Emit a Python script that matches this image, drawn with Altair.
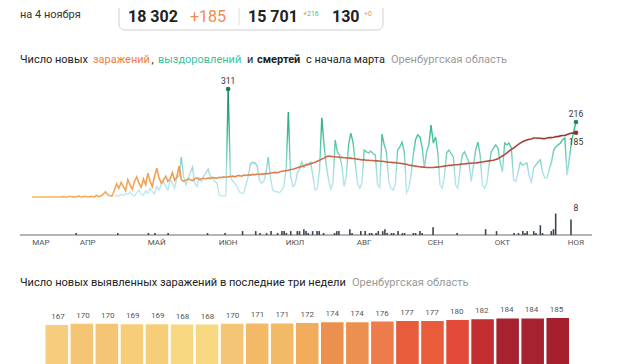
import altair as alt
import pandas as pd

FONT = "Roboto"

# ---------------- data ----------------
inf_start = "2020-03-05"
infections = [
    # Mar 5-31
    0, 0, 0, 0, 0, 0, 0, 0, 0, 0, 0, 0, 0, 0, 1, 0, 0, 2, 0, 1, 0, 3, 0, 1, 2, 0, 1,
    # Apr
    2, 0, 5, 1, 3, 8, 15, 6, 4, 3, 20, 38, 25, 42, 30, 18, 50, 35, 22, 45,
    58, 40, 28, 52, 35, 69, 45, 30, 60, 83,
    # May
    55, 40, 49, 60, 45, 52, 70, 48, 58, 89, 50, 45, 48, 52, 50, 47, 53, 55, 50, 52,
    54, 52, 55, 53, 56, 55, 54, 57, 56, 58, 57,
    # Jun
    58, 59, 60, 58, 61, 62, 60, 63, 62, 64, 63, 65, 64, 66, 65, 67, 66, 68, 67, 69,
    70, 71, 70, 72, 74, 75, 76, 77, 79, 80,
    # Jul
    82, 84, 86, 88, 90, 92, 94, 96, 98, 100, 103, 106, 109, 112, 116,
    118, 117, 116, 116, 115, 114, 114, 113, 113, 112, 112, 111, 110, 109, 108, 107,
    # Aug
    107, 106, 106, 105, 105, 104, 104, 103, 103, 102, 101, 100, 100, 99, 99, 98, 97, 96, 95, 94,
    92, 91, 90, 89, 88, 87, 86, 86, 85, 85, 85,
    # Sep
    85, 86, 86, 87, 88, 89, 90, 91, 91, 92, 93, 93, 94, 95, 95, 96, 97, 97, 98, 98,
    99, 100, 101, 102, 103, 104, 105, 106, 108, 110,
    # Oct
    114, 118, 122, 127, 132, 137, 141, 146, 151, 155, 159, 162, 164, 166,
    167, 170, 170, 169, 169, 168, 168, 170, 171, 171, 172, 174, 174, 176, 177, 177, 180,
    # Nov
    182, 184, 184, 185,
]

rec_start = "2020-04-11"
recoveries = [
    # Apr 11-30
    2, 5, 3, 8, 4, 10, 6, 15, 5, 3, 12, 20, 8, 5, 18, 10, 25, 15, 8, 30,
    # May
    20, 35, 45, 30, 20, 50, 40, 25, 55, 60, 115, 60, 35, 50, 70, 86, 40, 30, 55, 45,
    60, 70, 80, 60, 55, 45, 40, 5, 3, 3, 5,
    # Jun
    311, 60, 45, 40, 30, 15, 10, 12, 35, 60, 95, 100, 98, 90, 50, 40, 45, 70, 115, 55,
    20, 15, 15, 12, 20, 30, 80, 245, 60, 30,
    # Jul
    35, 69, 80, 100, 85, 95, 92, 100, 60, 20, 25, 80, 228, 150, 92, 50, 22, 40, 164, 130,
    121, 90, 30, 60, 150, 184, 158, 98, 40, 25, 40,
    # Aug
    135, 130, 127, 132, 125, 121, 35, 28, 181, 150, 130, 45, 25, 20, 38, 135, 144, 158, 130, 12,
    25, 63, 120, 164, 179, 173, 144, 84, 130, 150, 207,
    # Sep
    155, 173, 130, 35, 25, 60, 127, 135, 125, 115, 35, 25, 80, 121, 130, 115, 100, 45, 90, 135,
    158, 121, 35, 25, 40, 90, 130, 141, 150, 141,
    # Oct
    100, 72, 155, 150, 155, 141, 50, 45, 70, 100, 92, 95, 98, 60, 43, 84, 92, 100, 107, 72,
    55, 55, 80, 100, 135, 145, 150, 155, 165, 170, 63,
    # Nov
    110, 160, 190, 216,
]

death_dates = [
    "03-23", "04-11", "04-25", "04-28", "05-04", "05-22", "05-30",
    "06-07", "06-13", "06-15", "06-18", "06-20", "06-23", "06-25", "06-26", "06-27", "06-29",
    "07-02", "07-03", "07-05", "07-06", "07-07", "07-09", "07-11", "07-12", "07-14", "07-19",
    "07-20", "07-21", "07-26", "07-27", "07-31",
    "08-02", "08-04", "08-05", "08-07", "08-08", "08-10", "08-11", "08-12", "08-14", "08-15",
    "08-17", "08-19", "08-20", "08-24", "08-25", "08-27", "08-28",
    "09-02", "09-13", "09-26",
    "10-01", "10-09", "10-11", "10-13", "10-14", "10-15", "10-18", "10-19", "10-21", "10-22",
    "10-26", "10-27", "10-28", "11-04",
]
death_counts = [
    1, 1, 1, 1, 1, 1, 1,
    2, 2, 1, 1, 2, 1, 2, 2, 1, 2,
    2, 2, 3, 2, 1, 2, 2, 2, 1, 1,
    2, 2, 3, 1, 2,
    2, 1, 1, 1, 2, 2, 3, 1, 1, 1,
    2, 1, 1, 1, 1, 2, 1,
    4, 1, 3,
    2, 1, 1, 2, 1, 2, 2, 1, 5, 1,
    2, 3, 11, 8,
]

month_labels = ["МАР", "АПР", "МАЙ", "ИЮН", "ИЮЛ", "АВГ", "СЕН", "ОКТ", "НОЯ"]
month_label_dates = ["03-09", "03-30", "04-30", "06-01", "07-01", "08-01", "09-02", "10-02", "11-04"]

week_start = "2020-10-15"
week_values = [167, 170, 170, 169, 169, 168, 168, 170, 171, 171, 172,
               174, 174, 176, 177, 177, 180, 182, 184, 184, 185]

# ---------------- frames ----------------
def iso(s):
    return pd.to_datetime(s).strftime("%Y-%m-%dT00:00:00")

inf_df = pd.DataFrame({
    "date": pd.date_range(inf_start, periods=len(infections), freq="D").strftime("%Y-%m-%dT00:00:00"),
    "value": infections})
rec_df = pd.DataFrame({
    "date": pd.date_range(rec_start, periods=len(recoveries), freq="D").strftime("%Y-%m-%dT00:00:00"),
    "value": recoveries})
death_df = pd.DataFrame({"date": [iso("2020-" + d) for d in death_dates], "count": death_counts})
month_df = pd.DataFrame({"date": [iso("2020-" + d) for d in month_label_dates], "label": month_labels})
week_df = pd.DataFrame({
    "day": pd.date_range(week_start, periods=len(week_values), freq="D").strftime("%Y-%m-%d"),
    "value": week_values})

peak_df = rec_df.loc[[rec_df["value"].idxmax()]]
rec_last = rec_df.iloc[[-1]]
inf_last = inf_df.iloc[[-1]]
death_last = death_df.iloc[[-1]]

dummy = alt.Data(values=[{"a": 1}])

# ---------------- scales ----------------
XDOM = [alt.DateTime(year=2020, month=3, date=1), alt.DateTime(year=2020, month=11, date=4)]


def xenc():
    return alt.X("date:T", scale=alt.Scale(domain=XDOM, range=[15, 568]), axis=None)


ylines = alt.Y("value:Q", scale=alt.Scale(domain=[0, 311], range=[189, 81], nice=False, zero=False), axis=None)
ydeaths = alt.Y("count:Q", scale=alt.Scale(domain=[0, 8], range=[227, 211.4], nice=False), axis=None)


def label(txt, x, y, size=11, color="#222222", weight="normal", align="left", baseline="middle"):
    return alt.Chart(dummy).mark_text(
        text=txt, fontSize=size, color=color, fontWeight=weight, align=align,
        baseline=baseline, font=FONT).encode(x=alt.value(x), y=alt.value(y))


layers = []

# ---------------- header ----------------
layers.append(label("на 4 ноября", 12, 10, size=11, color="#333333", baseline="alphabetic"))
layers.append(alt.Chart(dummy).mark_rect(cornerRadius=6, fill="white", stroke="#cfcfcf", strokeWidth=1).encode(
    x=alt.value(111), x2=alt.value(375), y=alt.value(-20), y2=alt.value(22)))
layers.append(alt.Chart(dummy).mark_rule(color="#dddddd", strokeWidth=1).encode(
    x=alt.value(231), y=alt.value(0), y2=alt.value(17)))
layers.append(label("18 302", 120, 14, size=16, weight="bold", baseline="alphabetic"))
layers.append(label("+185", 182, 14, size=16, color="#f08c4e", baseline="alphabetic"))
layers.append(label("15 701", 240, 14, size=16, weight="bold", baseline="alphabetic"))
layers.append(label("+216", 295, 8, size=7, color="#4dbb8e", baseline="alphabetic"))
layers.append(label("130", 324, 14, size=16, weight="bold", baseline="alphabetic"))
layers.append(label("+0", 356, 8, size=7, color="#ef8a6a", baseline="alphabetic"))

# ---------------- title 1 ----------------
TY = 52
layers.append(label("Число новых", 12, TY))
layers.append(label("заражений", 85, TY, color="#ef7d3e"))
layers.append(label(",", 143.5, TY))
layers.append(label("выздоровлений", 150, TY, color="#3cbf99"))
layers.append(label("и", 239, TY))
layers.append(label("смертей", 249, TY, weight="bold"))
layers.append(label("с начала марта", 298, TY))
layers.append(label("Оренбургская область", 383, TY, color="#9a9a9a"))

# ---------------- main chart ----------------
cyan_grad = alt.Gradient(
    gradient="linear", x1=0, x2=0, y1=1, y2=0,
    stops=[alt.GradientStop(color="#c4e9f3", offset=0),
           alt.GradientStop(color="#a6dfe4", offset=0.22),
           alt.GradientStop(color="#72d0bb", offset=0.38),
           alt.GradientStop(color="#43c097", offset=0.56),
           alt.GradientStop(color="#2aa67e", offset=0.78),
           alt.GradientStop(color="#1d7d60", offset=1)])
orange_grad = alt.Gradient(
    gradient="linear", x1=0, x2=1, y1=0, y2=0,
    stops=[alt.GradientStop(color="#f4b560", offset=0),
           alt.GradientStop(color="#f0a052", offset=0.25),
           alt.GradientStop(color="#e08350", offset=0.4),
           alt.GradientStop(color="#cc6a4a", offset=0.55),
           alt.GradientStop(color="#b85444", offset=0.8),
           alt.GradientStop(color="#8f3533", offset=1)])

layers.append(alt.Chart(rec_df).mark_line(stroke=cyan_grad, strokeWidth=1.4).encode(x=xenc(), y=ylines))
layers.append(alt.Chart(inf_df).mark_line(stroke=orange_grad, strokeWidth=1.6).encode(x=xenc(), y=ylines))

layers.append(alt.Chart(dummy).mark_rule(color="#6b6b6b", strokeWidth=1).encode(
    x=alt.value(12), x2=alt.value(584), y=alt.value(227)))
layers.append(alt.Chart(death_df).mark_bar(width=1.6, color="#3d4451").encode(x=xenc(), y=ydeaths))
layers.append(alt.Chart(month_df).mark_text(fontSize=8, color="#555555", font=FONT, baseline="middle").encode(
    x=xenc(), y=alt.value(235), text="label:N"))

layers.append(alt.Chart(peak_df).mark_circle(size=22, color="#1f7a5c", opacity=1).encode(x=xenc(), y=ylines))
layers.append(alt.Chart(peak_df).mark_text(fontSize=8.5, color="#333333", font=FONT, dy=-8).encode(
    x=xenc(), y=ylines, text="value:Q"))
layers.append(alt.Chart(rec_last).mark_circle(size=22, color="#1f8a64", opacity=1).encode(x=xenc(), y=ylines))
layers.append(alt.Chart(rec_last).mark_text(fontSize=8.5, color="#333333", font=FONT, dy=-8).encode(
    x=xenc(), y=ylines, text="value:Q"))
layers.append(alt.Chart(inf_last).mark_circle(size=22, color="#8c2f2f", opacity=1).encode(x=xenc(), y=ylines))
layers.append(alt.Chart(inf_last).mark_text(fontSize=8.5, color="#333333", font=FONT, dy=9).encode(
    x=xenc(), y=ylines, text="value:Q"))
layers.append(alt.Chart(death_last).mark_text(fontSize=8.5, color="#333333", font=FONT, dy=-6,
                                              baseline="bottom").encode(
    x=xenc(), y=ydeaths, text="count:Q"))

# ---------------- title 2 ----------------
TY2 = 275
layers.append(label("Число новых выявленных заражений в последние три недели", 12, TY2, size=11.05))
layers.append(label("Оренбургская область", 344, TY2, size=11.05, color="#9a9a9a"))

# ---------------- bottom bars ----------------
bx = alt.X("day:O", sort=None, scale=alt.Scale(range=[37.5, 561], paddingInner=0.1, paddingOuter=0), axis=None)
by = alt.Y("value:Q", scale=alt.Scale(domain=[0, 185], range=[382, 310], nice=False, zero=False), axis=None)
bar_color = alt.Color("value:Q", legend=None, scale=alt.Scale(
    domain=[167, 168, 170, 172, 174, 176, 177, 180, 182, 184, 185],
    range=["#f6cd7c", "#f7d780", "#f4c574", "#f1ac5c", "#ec9050", "#ed7b4b",
           "#e85b3b", "#e24a3a", "#c22d2f", "#a72230", "#a51f2d"]))
layers.append(alt.Chart(week_df).mark_bar().encode(x=bx, y=by, color=bar_color))
layers.append(alt.Chart(week_df).mark_text(fontSize=8, color="#555555", font=FONT, dy=-8,
                                           baseline="middle").encode(x=bx, y=by, text="value:Q"))

chart = alt.layer(*layers).resolve_scale(
    x="independent", y="independent", color="independent"
).properties(
    width=604, height=356, padding=0, autosize=alt.AutoSizeParams(type="none")
).configure_view(stroke=None)

chart.save("out.html", embed_options={"renderer": "svg", "actions": False})
